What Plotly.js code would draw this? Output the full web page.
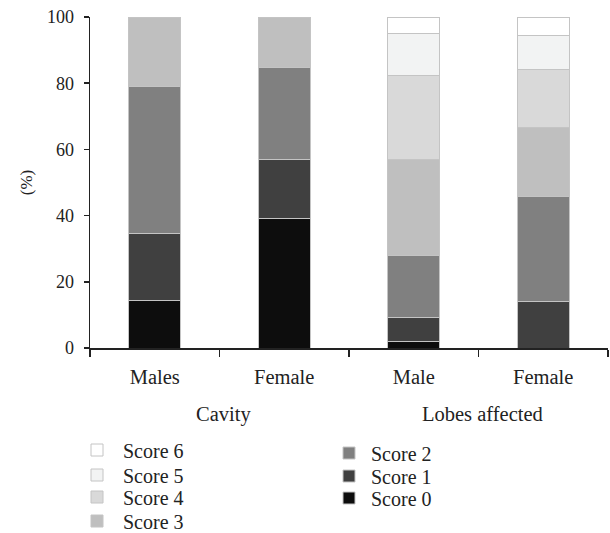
<!DOCTYPE html>
<html>
<head>
<meta charset="utf-8">
<script src="https://cdn.plot.ly/plotly-3.0.1.min.js"></script>
<style>html,body{margin:0;padding:0;background:#fff;}#chart{width:610px;height:533px;}</style>
</head>
<body>
<div id="chart"></div>
<script>
const categories = ['Males', 'Female', 'Male', 'Female'];
const groupLabels = ['Cavity', 'Lobes affected'];
const seriesNames = ['Score 0', 'Score 1', 'Score 2', 'Score 3', 'Score 4', 'Score 5', 'Score 6'];
const score0 = [14.5, 39.0, 2.0, null];
const score1 = [20.2, 17.8, 7.2, 14.2];
const score2 = [44.3, 28.0, 18.7, 31.5];
const score3 = [21.0, 15.2, 29.1, 20.9];
const score4 = [null, null, 25.2, 17.4];
const score5 = [null, null, 12.7, 10.4];
const score6 = [null, null, 5.1, 5.6];
const yTicks = [0, 20, 40, 60, 80, 100];

const series = [score0, score1, score2, score3, score4, score5, score6];
const colors = ['#0d0d0d', '#404040', '#808080', '#bfbfbf', '#d9d9d9', '#f2f3f3', '#ffffff'];
const xIdx = categories.map((c, i) => i);
const FONT = 'Liberation Serif, Times New Roman, serif';
const FS = 20.5;

// legend entry placement (pixels in the 610x533 figure): [symbol centre x, row centre y, symbol-to-text gap]
const W = 610, H = 533, ML = 90, MR = 2, MT = 17, MB = 185;
const legendPos = [[349, 498, 22], [349, 476, 22], [349, 453, 22], [97, 521, 26], [97, 497, 26], [97, 475, 26], [97, 450, 26]];
const PW = W - ML - MR, PH = H - MT - MB;

const traces = series.map((vals, k) => ({
  type: 'bar',
  name: seriesNames[k],
  x: xIdx,
  y: vals,
  width: 0.4,
  marker: {color: colors[k], line: {color: '#c4c4c4', width: 1}},
  legend: k === 0 ? 'legend' : 'legend' + (k + 1),
  hoverinfo: 'name+y'
}));

const layout = {
  width: W, height: H,
  margin: {l: ML, r: MR, t: MT, b: MB, autoexpand: false},
  barmode: 'stack',
  paper_bgcolor: '#fff', plot_bgcolor: '#fff',
  font: {family: FONT, size: FS, color: '#222'},
  xaxis: {
    range: [-0.5, 3.5],
    tickmode: 'array', tickvals: xIdx, ticktext: categories,
    ticks: '', showgrid: false, zeroline: false,
    showline: true, linecolor: '#222', linewidth: 1.5,
    ticklabelstandoff: 10, automargin: false,
    tickfont: {family: FONT, size: FS, color: '#222'},
    minor: {tickmode: 'linear', tick0: -0.5, dtick: 1, ticks: 'outside', ticklen: 7, tickcolor: '#222', tickwidth: 1.5, showgrid: false}
  },
  yaxis: {
    range: [0, 100], tickmode: 'array', tickvals: yTicks,
    ticks: 'outside', ticklen: 5, tickcolor: '#222', tickwidth: 1.5,
    showline: true, linecolor: '#222', linewidth: 1.5,
    showgrid: false, zeroline: false, automargin: false,
    ticklabelstandoff: 6,
    tickfont: {family: FONT, size: 18, color: '#222'},
    title: {text: '(%)', font: {family: FONT, size: 17, color: '#222'}, standoff: 10}
  },
  annotations: groupLabels.map((g, i) => ({
    text: g, x: i * 2 + 0.5, xref: 'x', y: -0.2, yref: 'paper',
    xshift: 4, showarrow: false, yanchor: 'middle',
    font: {family: FONT, size: FS, color: '#222'}
  })),
  showlegend: true
};

legendPos.forEach((p, k) => {
  const key = k === 0 ? 'legend' : 'legend' + (k + 1);
  const iw = 2 * (p[2] - 5);
  layout[key] = {
    x: (p[0] - (iw / 2 + 5) - ML) / PW, xanchor: 'left',
    y: (H - MB - p[1]) / PH, yanchor: 'middle',
    bgcolor: 'rgba(0,0,0,0)', itemwidth: iw,
    font: {family: FONT, size: 20, color: '#222'}
  };
});

Plotly.newPlot('chart', traces, layout, {displayModeBar: false, staticPlot: true});
</script>
</body>
</html>
